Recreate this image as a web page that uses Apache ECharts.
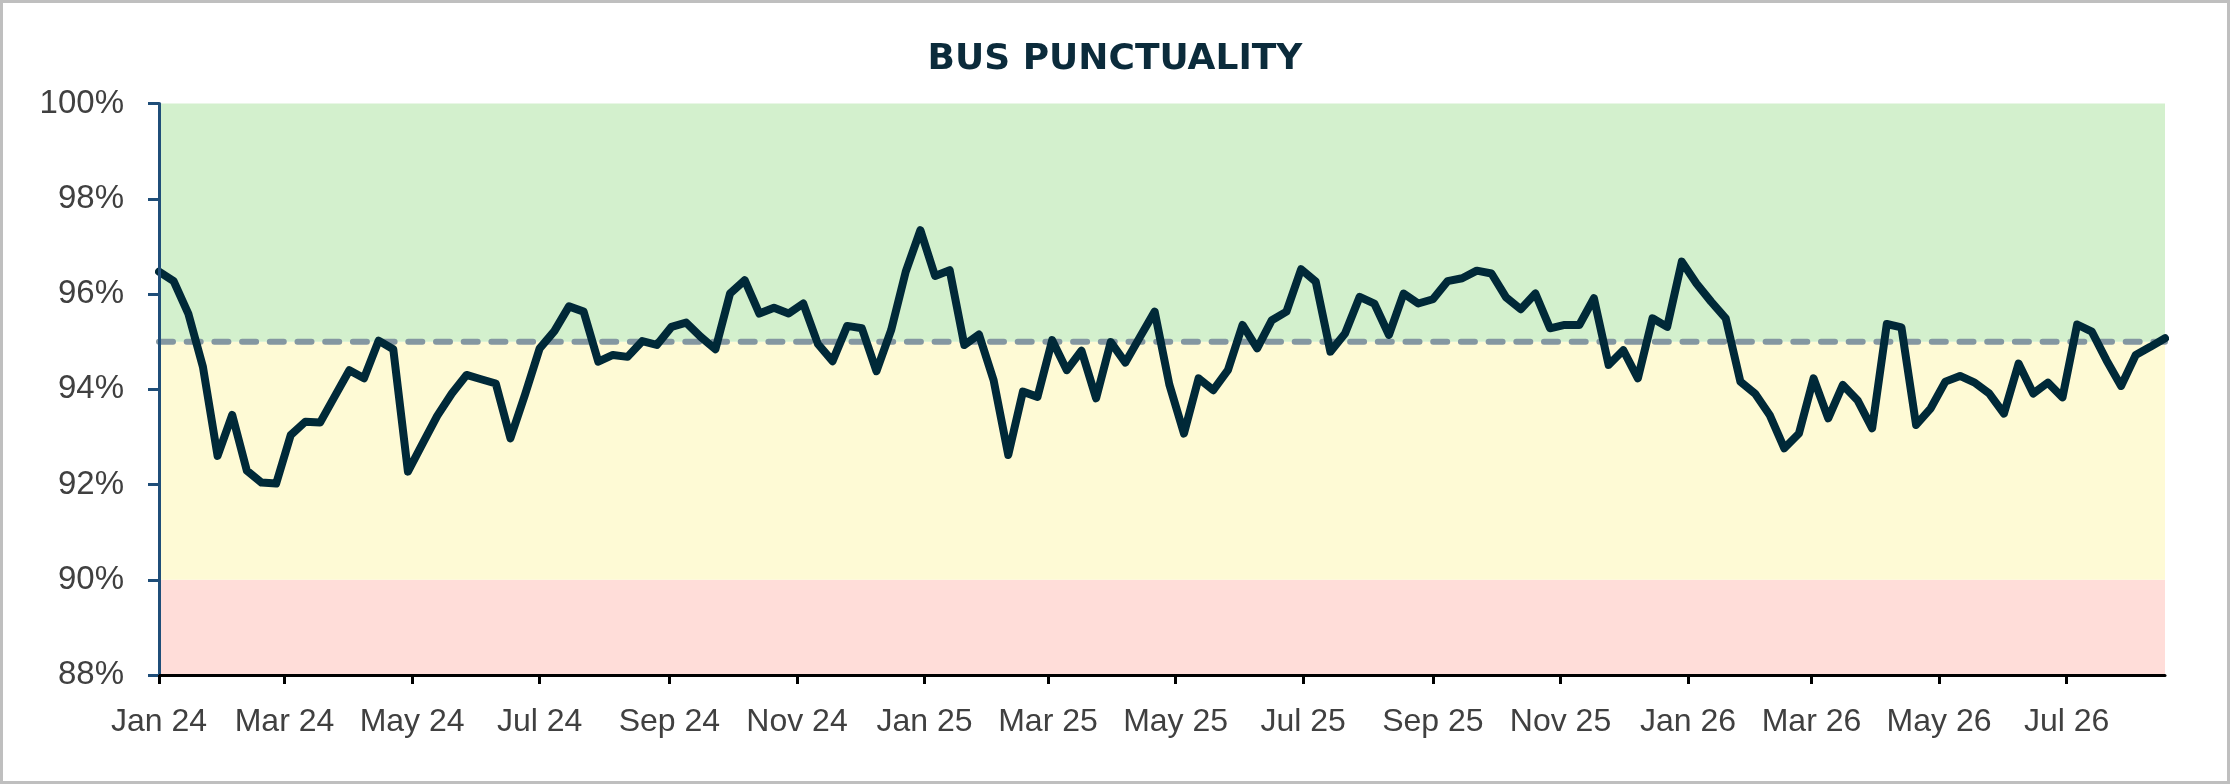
<!DOCTYPE html>
<html>
<head>
<meta charset="utf-8">
<script src="https://cdn.jsdelivr.net/npm/echarts@6/dist/echarts.min.js"></script>
<style>
  html, body { margin: 0; padding: 0; background: #ffffff; }
  #chart { width: 2230px; height: 784px; }
</style>
</head>
<body>
<div id="chart"></div>
<script>
// ---- data ----
const chartTitle = 'BUS PUNCTUALITY';
const firstWeek = '2024-01-01';          // weekly observations, one per week
const punctuality = [
  96.47, 96.27, 95.59, 94.47, 92.60, 93.46, 92.29, 92.04, 92.02, 93.04,
  93.32, 93.30, 93.85, 94.40, 94.23, 95.02, 94.84, 92.27, 92.86, 93.44,
  93.91, 94.30, 94.21, 94.12, 92.97, 93.89, 94.86, 95.22, 95.74, 95.63,
  94.58, 94.72, 94.68, 95.01, 94.93, 95.31, 95.40, 95.10, 94.84, 96.01,
  96.29, 95.59, 95.71, 95.59, 95.80, 94.95, 94.59, 95.33, 95.28, 94.38,
  95.24, 96.47, 97.34, 96.38, 96.50, 94.93, 95.15, 94.19, 92.62, 93.95,
  93.84, 95.03, 94.40, 94.81, 93.81, 94.99, 94.56, 95.10, 95.63, 94.10,
  93.07, 94.23, 93.98, 94.40, 95.35, 94.86, 95.45, 95.63, 96.52, 96.26,
  94.79, 95.17, 95.94, 95.80, 95.14, 96.01, 95.80, 95.89, 96.27, 96.33,
  96.49, 96.43, 95.93, 95.68, 96.01, 95.28, 95.35, 95.35, 95.91, 94.51,
  94.82, 94.23, 95.49, 95.31, 96.68, 96.22, 95.84, 95.49, 94.16, 93.91,
  93.46, 92.76, 93.07, 94.23, 93.39, 94.09, 93.77, 93.18, 95.37, 95.30,
  93.25, 93.60, 94.16, 94.28, 94.14, 93.91, 93.49, 94.54, 93.91, 94.14,
  93.83, 95.36, 95.21, 94.61, 94.07, 94.72, 94.89, 95.07
];
const target = 95;
const bandRed = [88, 90];
const bandYellow = [90, 95];
const bandGreen = [95, 100];
const yTicks = [88, 90, 92, 94, 96, 98, 100];
const xTickDates = [
  '2024-01-01', '2024-03-01', '2024-05-01', '2024-07-01', '2024-09-01', '2024-11-01',
  '2025-01-01', '2025-03-01', '2025-05-01', '2025-07-01', '2025-09-01', '2025-11-01',
  '2026-01-01', '2026-03-01', '2026-05-01', '2026-07-01'
];
const xTickLabels = [
  'Jan 24', 'Mar 24', 'May 24', 'Jul 24', 'Sep 24', 'Nov 24',
  'Jan 25', 'Mar 25', 'May 25', 'Jul 25', 'Sep 25', 'Nov 25',
  'Jan 26', 'Mar 26', 'May 26', 'Jul 26'
];

// ---- build ----
const DAY = 86400000;
const startTs = Date.parse(firstWeek + 'T00:00:00Z');
const weekTs = punctuality.map((_, i) => startTs + i * 7 * DAY);
const lineData = punctuality.map((v, i) => [weekTs[i], v]);
const tickTs = xTickDates.map(d => Date.parse(d + 'T00:00:00Z'));
const xMin = weekTs[0];
const xMax = weekTs[weekTs.length - 1];

const labelFont = "'Liberation Sans', Arial, sans-serif";
const chart = echarts.init(document.getElementById('chart'), null, { renderer: 'canvas' });

chart.setOption({
  animation: false,
  backgroundColor: '#ffffff',
  title: {
    text: chartTitle,
    left: 'center',
    top: 37,
    textStyle: {
      fontFamily: "'DejaVu Sans', sans-serif",
      fontWeight: 'bold',
      fontSize: 36,
      color: '#0B2B3B'
    }
  },
  grid: { left: 159, right: 65, top: 103.5, bottom: 109, containLabel: false },
  xAxis: {
    type: 'value',
    min: xMin,
    max: xMax,
    z: 10,
    axisLine: { show: true, lineStyle: { color: '#000000', width: 3 } },
    axisTick: { show: true, customValues: tickTs, length: 9, lineStyle: { color: '#000000', width: 3 } },
    axisLabel: {
      customValues: tickTs,
      formatter: (v) => { const k = tickTs.indexOf(v); return k >= 0 ? xTickLabels[k] : ''; },
      fontFamily: labelFont,
      fontSize: 32,
      color: '#404040',
      margin: 31
    },
    splitLine: { show: false }
  },
  yAxis: {
    type: 'value',
    min: yTicks[0],
    max: yTicks[yTicks.length - 1],
    interval: yTicks[1] - yTicks[0],
    z: 10,
    axisLine: { show: true, lineStyle: { color: '#1F4E79', width: 3 } },
    axisTick: { show: true, length: 11, lineStyle: { color: '#1F4E79', width: 3 } },
    axisLabel: {
      formatter: '{value}%',
      fontFamily: labelFont,
      fontSize: 33,
      color: '#404040',
      margin: 35
    },
    splitLine: { show: false }
  },
  series: [
    {
      name: 'Target',
      type: 'line',
      z: 2,
      silent: true,
      symbol: 'none',
      data: [[xMin, target], [xMax, target]],
      lineStyle: { color: '#8497A1', width: 6, type: [14, 13.7], cap: 'round' },
      markArea: {
        silent: true,
        data: [
          [{ yAxis: bandRed[0], itemStyle: { color: '#FFDDD9' } }, { yAxis: bandRed[1] }],
          [{ yAxis: bandYellow[0], itemStyle: { color: '#FEFAD5' } }, { yAxis: bandYellow[1] }],
          [{ yAxis: bandGreen[0], itemStyle: { color: '#D3F0CD' } }, { yAxis: bandGreen[1] }]
        ]
      }
    },
    {
      name: 'Bus punctuality',
      type: 'line',
      z: 3,
      silent: true,
      symbol: 'none',
      data: lineData,
      lineStyle: { color: '#002938', width: 8, join: 'round', cap: 'round' }
    }
  ],
  graphic: [
    {
      type: 'rect',
      z: 100,
      silent: true,
      shape: { x: 1.5, y: 1.5, width: 2227, height: 781 },
      style: { fill: null, stroke: '#BFBFBF', lineWidth: 3 }
    }
  ]
});
</script>
</body>
</html>
